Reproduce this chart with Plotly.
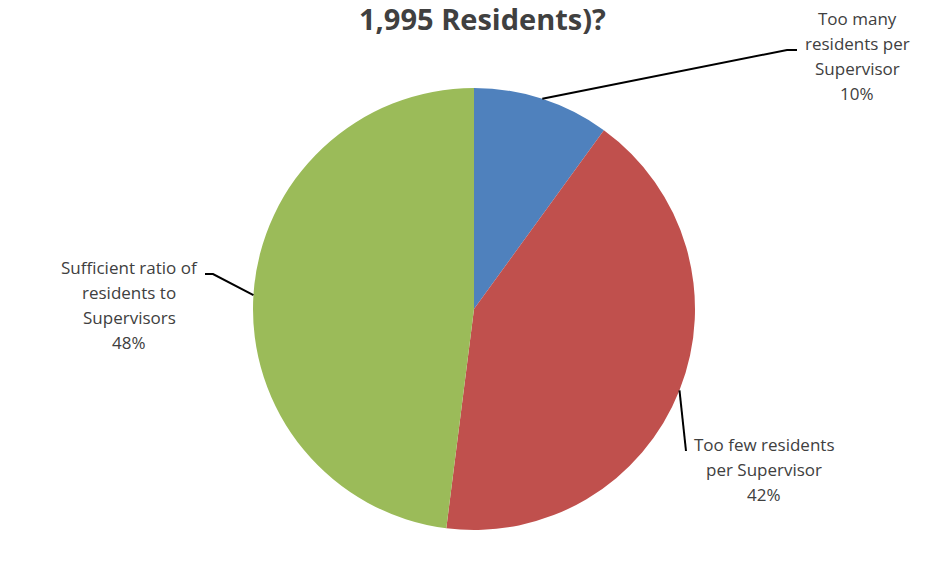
import math
import plotly.graph_objects as go

# ---- data ----
categories = [
    "Too many residents per Supervisor",
    "Too few residents per Supervisor",
    "Sufficient ratio of residents to Supervisors",
]
values = [10, 42, 48]
label_lines = [
    ["Too many", "residents per", "Supervisor"],
    ["Too few residents", "per Supervisor"],
    ["Sufficient ratio of", "residents to", "Supervisors"],
]
colors = ["#4F81BD", "#C0504D", "#9BBB59"]
title_text = "1,995 Residents)?"

# ---- layout (pixels) ----
W, H = 940, 584
cx, cy, r = 474, 309, 221
label_pos = [(857, 56), (764, 469), (129, 305)]          # label centres
elbows = [[(787, 50), (797, 50)], [(686, 451)], [(213, 274), (205, 274)]]
LINE_H = 25
TEXT = "#404040"
FONT = "Open Sans"


def px(x):
    return x / W


def py(y):
    return 1 - y / H


fig = go.Figure(
    go.Pie(
        labels=categories,
        values=values,
        sort=False,
        direction="clockwise",
        rotation=0,
        marker=dict(colors=colors, line=dict(width=0)),
        textinfo="none",
        hoverinfo="label+percent",
        domain=dict(x=[px(cx - r), px(cx + r)], y=[py(cy + r), py(cy - r)]),
        showlegend=False,
    )
)

total = sum(values)
cum = 0
shapes = []
annotations = []
for i, v in enumerate(values):
    mid = (cum + v / 2) / total * 2 * math.pi
    cum += v
    ax = cx + r * math.sin(mid)
    ay = cy - r * math.cos(mid)
    pts = [(ax, ay)] + elbows[i]
    path = "M " + " L ".join(f"{px(x)},{py(y)}" for x, y in pts)
    shapes.append(dict(type="path", xref="paper", yref="paper", path=path,
                       line=dict(color="black", width=2)))
    pct = f"{round(v / total * 100)}%"
    lines = label_lines[i] + [pct]
    lx, ly = label_pos[i]
    n = len(lines)
    for k, t in enumerate(lines):
        yy = ly + (k - (n - 1) / 2) * LINE_H
        annotations.append(dict(x=px(lx), y=py(yy), xref="paper", yref="paper",
                                text=t, showarrow=False, xanchor="center",
                                yanchor="middle", align="center",
                                font=dict(family=FONT, size=17, color=TEXT)))

annotations.append(dict(x=px(482), y=py(19), xref="paper", yref="paper",
                        text=f"<b>{title_text}</b>", showarrow=False,
                        xanchor="center", yanchor="middle",
                        font=dict(family=FONT, size=29, color=TEXT)))

fig.update_layout(
    width=W, height=H, autosize=False,
    margin=dict(l=0, r=0, t=0, b=0),
    paper_bgcolor="white", plot_bgcolor="white",
    shapes=shapes, annotations=annotations,
)

fig.write_html("out.html")
